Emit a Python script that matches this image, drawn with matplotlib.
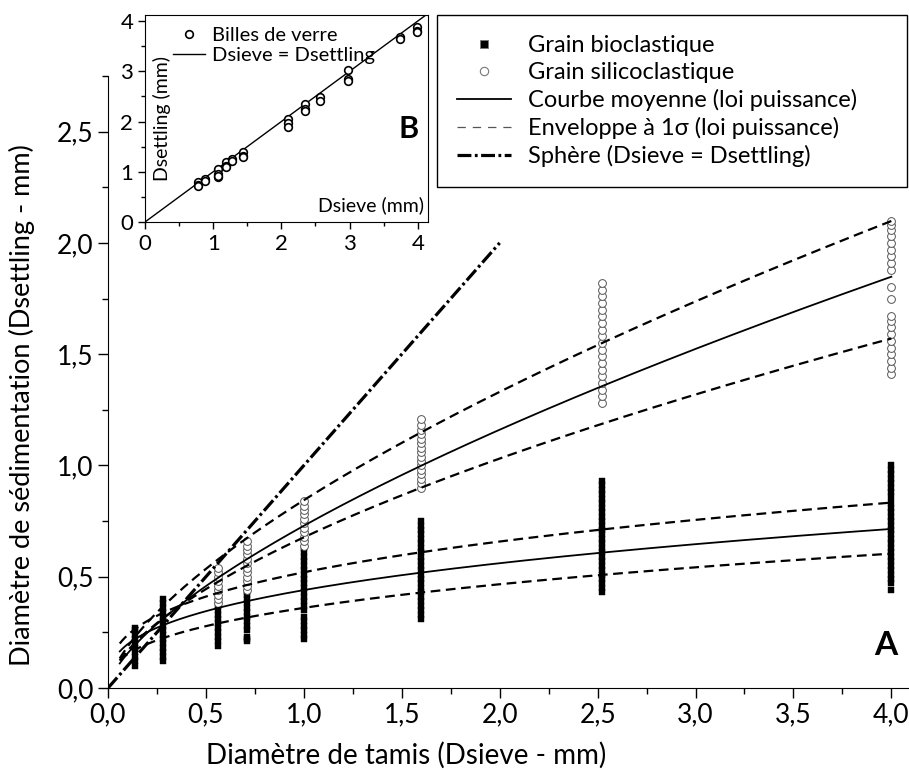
import numpy as np
import matplotlib
matplotlib.use('Agg')
from matplotlib import pyplot as plt
from matplotlib.lines import Line2D
from matplotlib.ticker import MultipleLocator, FuncFormatter

plt.rcParams['font.family'] = ['Lato', 'DejaVu Sans']
plt.rcParams['lines.scale_dashes'] = False

# sieve sizes (mm) and settling diameters
bio = {
    0.14: [0.10, 0.12, 0.14, 0.16, 0.18, 0.20, 0.22, 0.24, 0.26, 0.27],
    0.28: [0.12, 0.14, 0.16, 0.18, 0.20, 0.22, 0.24, 0.26, 0.28, 0.30, 0.32, 0.34, 0.36, 0.38, 0.40],
    0.56: [0.19, 0.21, 0.23, 0.25, 0.27, 0.29, 0.31, 0.33, 0.35, 0.37],
    0.71: [0.21, 0.22, 0.23, 0.26, 0.28, 0.30, 0.32, 0.34, 0.36, 0.38, 0.40, 0.42, 0.43],
    1.00: [0.22, 0.24, 0.26, 0.28, 0.30, 0.32, 0.35, 0.37, 0.39, 0.41, 0.43, 0.45, 0.47, 0.49,
           0.51, 0.53, 0.55, 0.57, 0.59, 0.61, 0.63],
    1.60: [0.31, 0.33, 0.35, 0.37, 0.39, 0.41, 0.43, 0.45, 0.47, 0.49, 0.51, 0.53, 0.55, 0.57,
           0.59, 0.61, 0.63, 0.65, 0.67, 0.69, 0.71, 0.73, 0.75],
    2.52: [0.43, 0.45, 0.47, 0.49, 0.51, 0.53, 0.55, 0.57, 0.59, 0.61, 0.63, 0.65, 0.67, 0.69,
           0.71, 0.73, 0.75, 0.77, 0.79, 0.81, 0.83, 0.85, 0.87, 0.89, 0.91, 0.93],
    4.00: [0.44, 0.47, 0.49, 0.51, 0.53, 0.55, 0.57, 0.59, 0.61, 0.63, 0.65, 0.67, 0.69, 0.71,
           0.73, 0.75, 0.77, 0.79, 0.81, 0.83, 0.86, 0.88, 0.90, 0.92, 0.94, 0.96, 0.98, 1.00],
}
sili = {
    0.56: [0.38, 0.40, 0.42, 0.44, 0.46, 0.48, 0.50, 0.52, 0.54],
    0.71: [0.44, 0.46, 0.48, 0.50, 0.52, 0.54, 0.56, 0.58, 0.60, 0.62, 0.64, 0.66],
    1.00: [0.64, 0.66, 0.68, 0.70, 0.72, 0.74, 0.76, 0.78, 0.80, 0.82, 0.84],
    1.60: [0.90, 0.92, 0.94, 0.96, 0.98, 1.00, 1.02, 1.04, 1.06, 1.08, 1.10, 1.12, 1.14, 1.16,
           1.18, 1.21],
    2.52: [1.28, 1.31, 1.34, 1.37, 1.40, 1.43, 1.46, 1.49, 1.52, 1.55, 1.58, 1.61, 1.64, 1.67,
           1.70, 1.73, 1.76, 1.79, 1.82],
    4.00: [1.41, 1.44, 1.47, 1.50, 1.53, 1.56, 1.59, 1.62, 1.65, 1.67, 1.75, 1.80, 1.88, 1.91,
           1.94, 1.97, 2.00, 2.03, 2.06, 2.08, 2.10],
}
# power law fits y = a * x**b  (mean, upper, lower)
sili_fit = {'mean': (0.729, 0.671), 'up': (0.844, 0.657), 'low': (0.677, 0.607)}
bio_fit = {'mean': (0.44, 0.35), 'up': (0.52, 0.34), 'low': (0.36, 0.373)}
fit_range = (0.06, 4.0)
sphere_end = 2.0

# glass beads (inset B)
beads = {
    0.78: [0.80, 0.73, 0.72],
    0.88: [0.86, 0.82],
    1.07: [1.06, 0.95, 0.90, 0.92],
    1.19: [1.19, 1.12, 1.09],
    1.28: [1.26, 1.22],
    1.44: [1.39, 1.32, 1.29],
    2.10: [2.06, 1.97, 1.90],
    2.34: [2.35, 2.25, 2.20],
    2.57: [2.49, 2.40],
    2.98: [3.02, 2.85, 2.80],
    3.74: [3.68, 3.64],
    3.99: [3.89, 3.80, 3.78],
}

def comma(v, pos):
    return f'{v:.1f}'.replace('.', ',')

fig = plt.figure(figsize=(9.09, 7.70), dpi=100)
ax = fig.add_axes([108/909, 82/770, 801/909, 612/770])

for x, ys in bio.items():
    ax.plot([x]*len(ys), ys, ls='none', marker='s', ms=4.8, mfc='black', mec='black', mew=0.3, zorder=3)
for x, ys in sili.items():
    ax.plot([x]*len(ys), ys, ls='none', marker='o', ms=5.6, mfc='white', mec='#555555', mew=0.7, zorder=3)

xs = np.linspace(fit_range[0], fit_range[1], 300)
for fit in (sili_fit, bio_fit):
    a, b = fit['mean']
    ax.plot(xs, a*xs**b, color='black', lw=1.3, zorder=4)
    for k in ('up', 'low'):
        a, b = fit[k]
        ax.plot(xs, a*xs**b, color='black', lw=1.6, dashes=(7, 4), zorder=4)
ax.plot([0, sphere_end], [0, sphere_end], color='black', lw=2.3, dashes=(10, 2.5, 2, 2.5), zorder=4)

ax.set_xlim(0, 4.09)
ax.set_ylim(0, 2.75)
for s in ('top', 'right'):
    ax.spines[s].set_visible(False)
ax.xaxis.set_major_locator(MultipleLocator(0.5))
ax.xaxis.set_minor_locator(MultipleLocator(0.25))
ax.yaxis.set_major_locator(MultipleLocator(0.5))
ax.yaxis.set_minor_locator(MultipleLocator(0.25))
ax.xaxis.set_major_formatter(FuncFormatter(comma))
ax.yaxis.set_major_formatter(FuncFormatter(comma))
ax.tick_params(which='major', direction='out', length=7, width=1, labelsize=19)
ax.tick_params(which='minor', direction='out', length=4, width=1)
ax.text(0.985, 0.07, 'A', transform=ax.transAxes, fontsize=24, fontweight='bold', ha='right', va='center')

fig.text(406/909, 1-755/770, 'Diamètre de tamis (Dsieve - mm)', fontsize=20, ha='center', va='center')
fig.text(22/909, 1-405/770, 'Diamètre de sédimentation (Dsettling - mm)', fontsize=19.5,
         ha='center', va='center', rotation=90)

handles = [
    Line2D([], [], ls='none', marker='s', ms=6, mfc='black', mec='#777777', mew=0.6),
    Line2D([], [], ls='none', marker='o', ms=6, mfc='white', mec='#777777', mew=0.8),
    Line2D([], [], color='black', lw=1.3),
    Line2D([], [], color='#555555', lw=0.9, dashes=(6, 5)),
    Line2D([], [], color='black', lw=2.3, dashes=(10, 2.5, 2, 2.5)),
]
labels = ['Grain bioclastique', 'Grain silicoclastique', 'Courbe moyenne (loi puissance)',
          'Enveloppe à 1σ (loi puissance)', 'Sphère (Dsieve = Dsettling)']
fig.legend(handles, labels, loc='upper left', bbox_to_anchor=(437/909, 1-193/770, 470/909, 178/770),
           mode='expand', fontsize=17, frameon=True, fancybox=False, edgecolor='black',
           framealpha=1, borderpad=0.85, labelspacing=0.25, handlelength=2.3, handletextpad=0.7,
           borderaxespad=0)

# inset B
ins = fig.add_axes([145/909, 1-222/770, 283/909, 207/770])
ins.plot([0, 4.15], [0, 4.15], color='black', lw=1.0, label='Dsieve = Dsettling')
first = True
for x, ys in beads.items():
    ins.plot([x]*len(ys), ys, ls='none', marker='o', ms=5.5, mfc='white', mec='black', mew=1.2,
             label='Billes de verre' if first else None)
    first = False
ins.set_xlim(0, 4.15)
ins.set_ylim(0, 4.12)
ins.xaxis.set_major_locator(MultipleLocator(1))
ins.xaxis.set_minor_locator(MultipleLocator(0.5))
ins.yaxis.set_major_locator(MultipleLocator(1))
ins.yaxis.set_minor_locator(MultipleLocator(0.5))
ins.tick_params(which='major', direction='out', length=5, width=1, labelsize=16)
ins.tick_params(which='minor', direction='out', length=3, width=1)
h, l = ins.get_legend_handles_labels()
ins.legend(h[::-1], l[::-1], loc='upper left', bbox_to_anchor=(0.05, 1.01), fontsize=14.5, frameon=False,
           handlelength=1.6, handletextpad=0.3, labelspacing=0.15, borderpad=0.2)
ins.text(0.06, 0.5, 'Dsettling (mm)', transform=ins.transAxes, rotation=90, fontsize=14,
         ha='center', va='center')
ins.text(0.985, 0.08, 'Dsieve (mm)', transform=ins.transAxes, fontsize=14, ha='right', va='center')
ins.text(0.93, 0.45, 'B', transform=ins.transAxes, fontsize=22, fontweight='bold', ha='center', va='center')

fig.savefig('out.png', dpi=100)
